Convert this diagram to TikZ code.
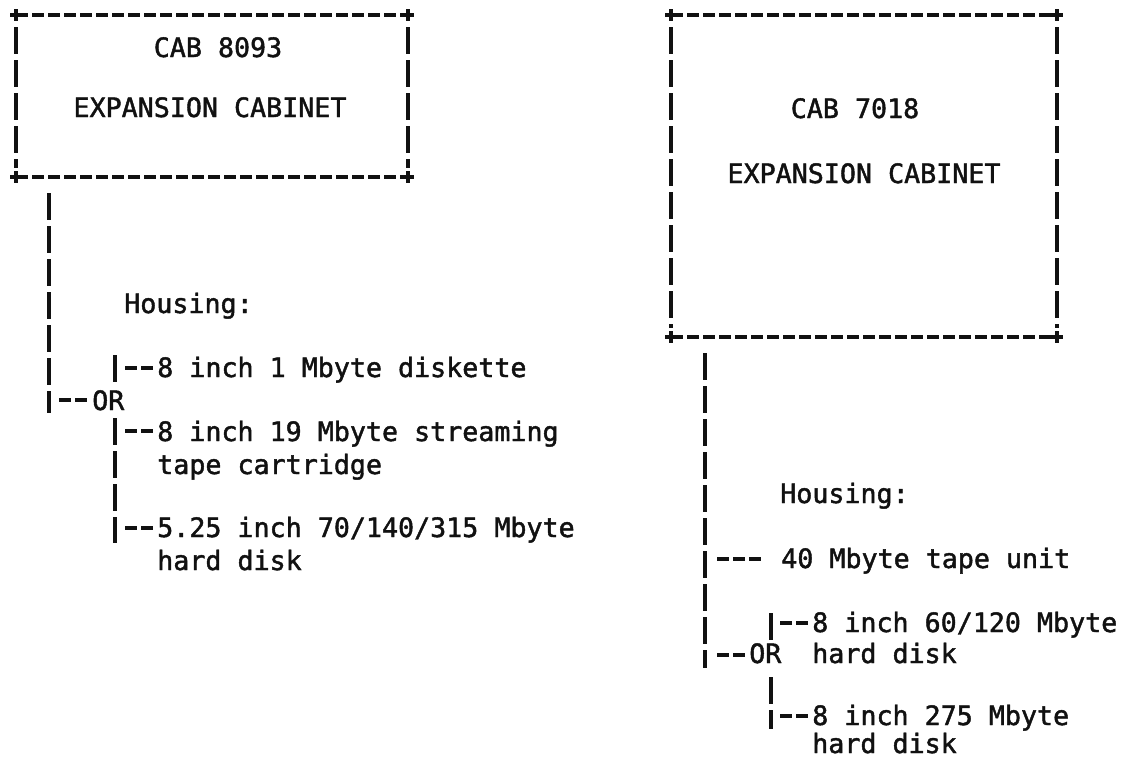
\documentclass[tikz,border=0pt]{standalone}
\usepackage{fontspec}
\setmonofont{DejaVu Sans Mono}[FakeBold=1.6]
\usetikzlibrary{calc}
\definecolor{PrintInk}{HTML}{111111}
\definecolor{PrintPaper}{HTML}{FFFFFF}
\tikzset{
  every node/.style={font=\ttfamily\fontsize{20}{24}\selectfont, text=PrintInk, inner sep=0pt},
  rowlabel/.style={anchor=base west},
  boxtitle/.style={anchor=base},
  hrule/.style={draw=PrintInk, line width=2.5pt, dash pattern=on 9pt off 3pt},
  vrule/.style={draw=PrintInk, line width=2.4pt, dash pattern=on 20pt off 4.75pt},
  stub/.style={draw=PrintInk, line width=2.5pt, dash pattern=on 9pt off 3pt, shorten >=1.5pt},
  corner/.style={draw=PrintInk, line width=2.6pt},
}

\begin{document}
\begin{tikzpicture}[x=0.75pt, y=-0.75pt]
  \useasboundingbox[fill=PrintPaper] (0,0) rectangle (1124,760);
  % Cabinet outlines: dashed sides with plus corners
  \coordinate (c8093nw) at (16,15);
  \coordinate (c8093ne) at (408,15);
  \coordinate (c8093sw) at (16,177);
  \coordinate (c8093se) at (408,177);
  \coordinate (c7018nw) at (671,15);
  \coordinate (c7018ne) at (1057,15);
  \coordinate (c7018sw) at (671,337);
  \coordinate (c7018se) at (1057,337);
  \foreach \c in {8093,7018} {
    \draw[hrule] (c\c nw) -- (c\c ne);
    \draw[hrule] (c\c sw) -- (c\c se);
    \draw[vrule] ([yshift=-9pt]c\c nw) -- ([yshift=7pt]c\c sw);
    \draw[vrule] ([yshift=-9pt]c\c ne) -- ([yshift=7pt]c\c se);
    \foreach \k in {nw,ne,sw,se}
      \draw[corner] (c\c\k) ++(-6,0) -- ++(12,0) (c\c\k) ++(0,-6) -- ++(0,12);
  }
  \node[boxtitle] (cab8093id) at (218,57) {CAB 8093};
  \node[boxtitle] (cab8093name) at (210,117) {EXPANSION CABINET};
  \node[boxtitle] (cab7018id) at (855,118) {CAB 7018};
  \node[boxtitle] (cab7018name) at (864,183) {EXPANSION CABINET};

  % CAB 8093 housing tree
  \coordinate (trunkL) at (49,193);
  \coordinate (trunkLend) at (49,413);
  \draw[vrule] (trunkL) -- (trunkLend);
  \node[rowlabel] (housingL) at (124,313) {Housing:};
  \node[rowlabel] (diskette) at (157,377) {8 inch 1 Mbyte diskette};
  \node[rowlabel] (orL) at (92,410) {OR};
  \node[rowlabel] (streamer) at (157,441) {8 inch 19 Mbyte streaming};
  \node[rowlabel] (streamerb) at (157,474) {tape cartridge};
  \node[rowlabel] (hdsmall) at (157,537) {5.25 inch 70/140/315 Mbyte};
  \node[rowlabel] (hdsmallb) at (157,570) {hard disk};
  \coordinate (branchLa) at (115,355);
  \coordinate (branchLb) at (115,382);
  \coordinate (branchLc) at (115,418);
  \coordinate (branchLd) at (115,543);
  \draw[vrule] (branchLa) -- (branchLb);
  \draw[vrule] (branchLc) -- (branchLd);
  \coordinate (stubOrL) at (59,400);
  \coordinate (stubDiskette) at (125,368);
  \coordinate (stubStreamer) at (125,431);
  \coordinate (stubHdsmall) at (125,528);
  \draw[stub] (stubOrL) -- (stubOrL -| orL.west);
  \draw[stub] (stubDiskette) -- (stubDiskette -| diskette.west);
  \draw[stub] (stubStreamer) -- (stubStreamer -| streamer.west);
  \draw[stub] (stubHdsmall) -- (stubHdsmall -| hdsmall.west);

  % CAB 7018 housing tree
  \coordinate (trunkR) at (705,353);
  \coordinate (trunkRend) at (705,668);
  \draw[vrule] (trunkR) -- (trunkRend);
  \node[rowlabel] (housingR) at (780,503) {Housing:};
  \node[rowlabel] (tapeunit) at (781,568) {40 Mbyte tape unit};
  \node[rowlabel] (hdmid) at (812,632) {8 inch 60/120 Mbyte};
  \node[rowlabel] (orR) at (749,663) {OR};
  \node[rowlabel] (hdmidb) at (812,663) {hard disk};
  \node[rowlabel] (hdbig) at (812,725) {8 inch 275 Mbyte};
  \node[rowlabel] (hdbigb) at (812,753) {hard disk};
  \coordinate (branchRa) at (771,613);
  \coordinate (branchRb) at (771,640);
  \coordinate (branchRc) at (771,677);
  \coordinate (branchRd) at (771,729);
  \draw[vrule] (branchRa) -- (branchRb);
  \draw[vrule] (branchRc) -- (branchRd);
  \coordinate (stubTape) at (717,559);
  \coordinate (stubOrR) at (717,655);
  \coordinate (stubHdmid) at (780,623);
  \coordinate (stubHdbig) at (780,716);
  \draw[stub, shorten >=14pt] (stubTape) -- (stubTape -| tapeunit.west);
  \draw[stub] (stubOrR) -- (stubOrR -| orR.west);
  \draw[stub] (stubHdmid) -- (stubHdmid -| hdmid.west);
  \draw[stub] (stubHdbig) -- (stubHdbig -| hdbig.west);
\end{tikzpicture}
\end{document}
